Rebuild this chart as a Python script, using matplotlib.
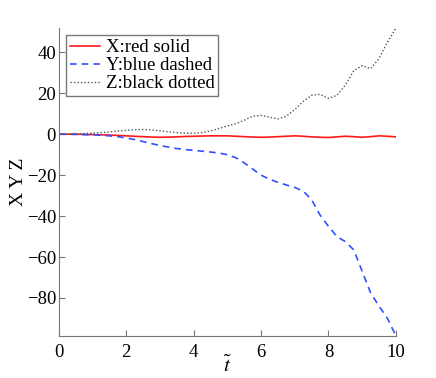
import matplotlib
matplotlib.use("Agg")
import matplotlib.pyplot as plt

plt.rcParams['font.family'] = ['Liberation Serif', 'DejaVu Serif']
plt.rcParams['mathtext.fontset'] = 'stix'

# time samples
t = [0, 0.25, 0.5, 0.75, 1, 1.25, 1.5, 1.75, 2, 2.25, 2.5, 2.75, 3, 3.25, 3.5, 3.75,
     4, 4.25, 4.5, 4.75, 5, 5.25, 5.5, 5.75, 6, 6.25, 6.5, 6.75, 7, 7.25, 7.5, 7.75,
     8, 8.25, 8.5, 8.75, 9, 9.25, 9.5, 9.75, 10]

x_red = [0, 0, 0, -0.1, -0.2, -0.3, -0.4, -0.6, -0.8, -1.0, -1.2, -1.4, -1.5, -1.4, -1.3, -1.1,
         -1.0, -0.9, -0.8, -0.8, -0.8, -1.0, -1.2, -1.4, -1.5, -1.4, -1.2, -1.0, -0.8, -1.0, -1.3, -1.5,
         -1.6, -1.3, -1.0, -1.2, -1.5, -1.2, -0.8, -1.0, -1.3]

y_blue = [0, 0, -0.1, -0.2, -0.3, -0.5, -0.8, -1.2, -1.8, -2.6, -3.6, -4.6, -5.5, -6.3, -7.0, -7.5,
          -7.9, -8.3, -8.7, -9.2, -10.0, -11.5, -14.0, -17.0, -20.0, -22.0, -23.5, -24.8, -26.0, -27.8, -32.0, -39.5,
          -45.0, -50.0, -52.5, -56.5, -67.0, -77.5, -84.0, -90.0, -98.5]

z_black = [0, 0.05, 0.1, 0.3, 0.5, 0.8, 1.1, 1.5, 1.9, 2.2, 2.3, 2.1, 1.7, 1.2, 0.8, 0.5,
           0.5, 0.8, 1.6, 2.8, 4.0, 5.2, 6.8, 8.8, 9.2, 8.3, 7.5, 8.8, 12.0, 16.0, 19.0, 19.5,
           17.5, 19.0, 24.0, 31.0, 33.5, 32.0, 37.0, 45.0, 51.8]

fig = plt.figure(figsize=(4.36, 3.78), dpi=100)
ax = fig.add_axes([0.135, 0.111, 0.773, 0.815])

ax.plot(t, x_red, color='#ff1a1a', lw=1.2, label='X:red solid')
ax.plot(t, y_blue, color='#3050ff', lw=1.2, ls=(0, (4, 3)), label='Y:blue dashed')
ax.plot(t, z_black, color='#555555', lw=1.0, ls=(0, (1, 1.5)), label='Z:black dotted')

ax.set_xlim(0, 10)
ax.set_ylim(-98.6, 51.9)
ax.set_xticks([0, 2, 4, 6, 8, 10])
ax.set_yticks([-80, -60, -40, -20, 0, 20, 40])

for s in ['top', 'right']:
    ax.spines[s].set_visible(False)
for s in ['left', 'bottom']:
    ax.spines[s].set_color('#777777')
ax.tick_params(direction='in', length=4, color='#777777', labelsize=13.5)
ax.tick_params(axis='x', pad=6)
ax.tick_params(axis='y', pad=2)

ax.set_xlabel(r'$\tilde{t}$', fontsize=15, labelpad=-4)
ax.set_ylabel('X Y Z', fontsize=14, labelpad=0)

leg = ax.legend(loc='upper left', fontsize=13.5, fancybox=False, framealpha=1,
                edgecolor='#777777', borderpad=0.2, labelspacing=0.05,
                handlelength=1.6, handletextpad=0.3, borderaxespad=0.4)
leg.get_frame().set_linewidth(1.0)

fig.savefig('out.png', dpi=100)
